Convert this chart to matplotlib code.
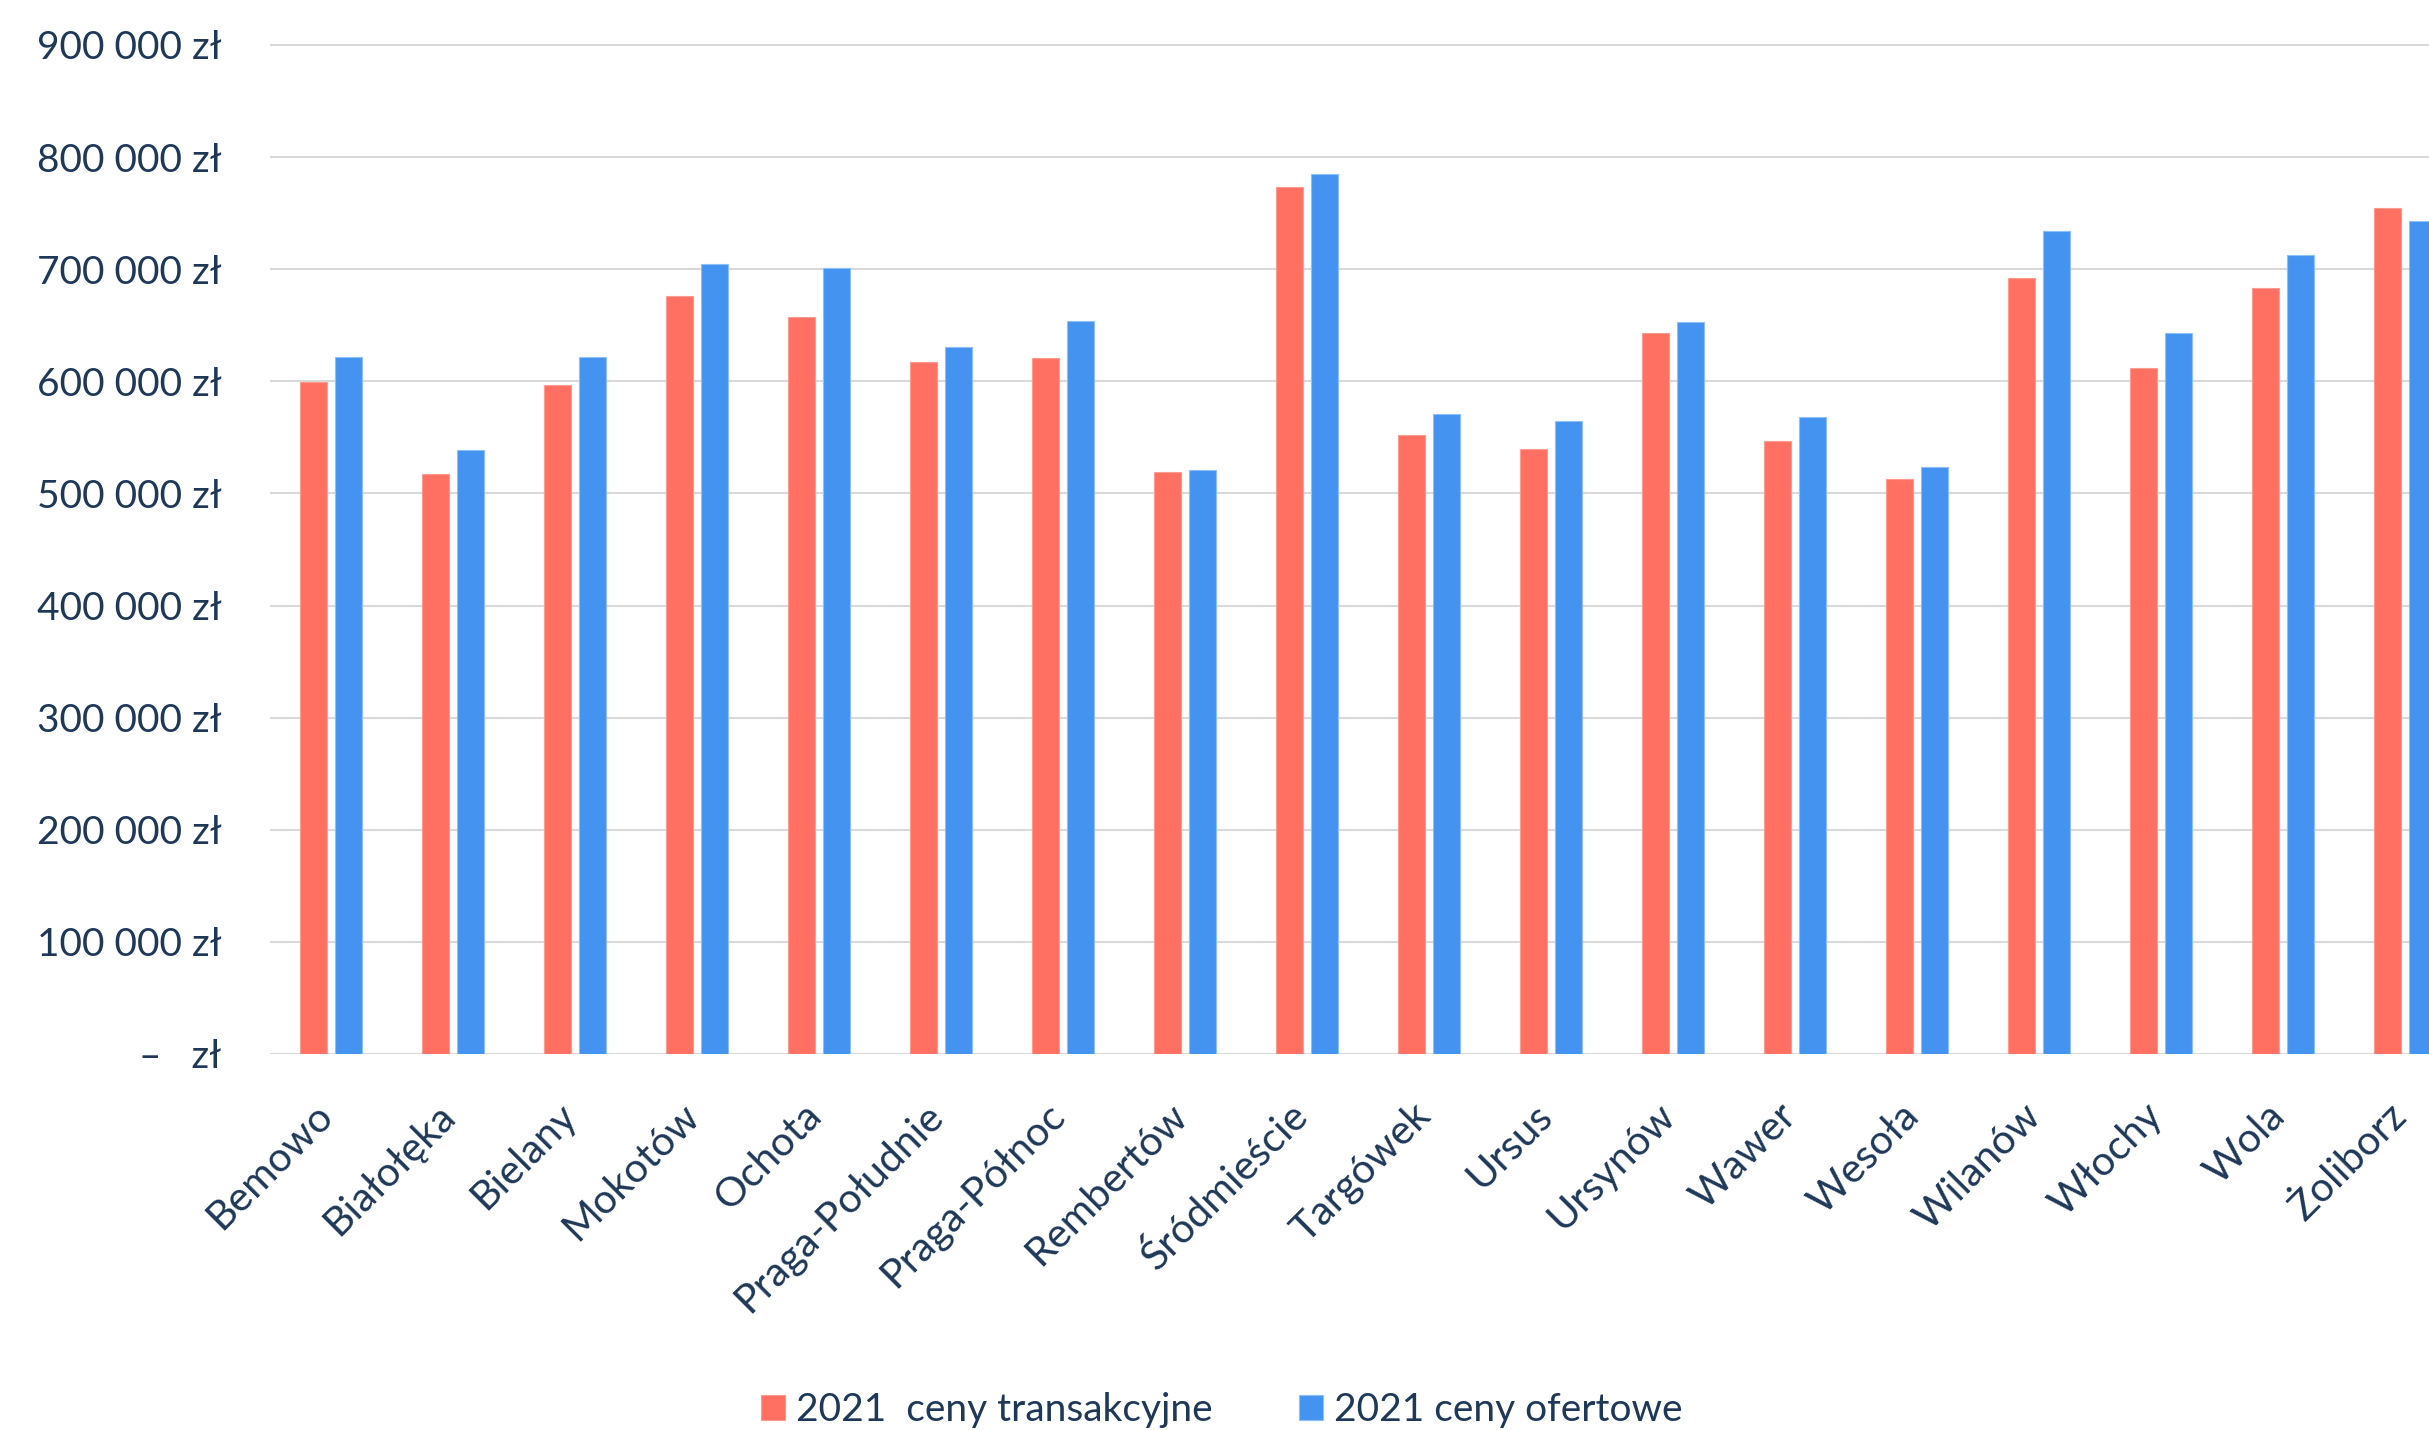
import matplotlib
matplotlib.use("Agg")
import matplotlib.pyplot as plt
import numpy as np
from matplotlib.transforms import ScaledTranslation

# District names (Warsaw) and average flat prices in PLN
districts = ["Bemowo", "Białołęka", "Bielany", "Mokotów", "Ochota", "Praga-Południe",
             "Praga-Północ", "Rembertów", "Śródmieście", "Targówek", "Ursus", "Ursynów",
             "Wawer", "Wesoła", "Wilanów", "Włochy", "Wola", "Żoliborz"]
transaction_2021 = [599000, 517000, 597000, 676000, 657000, 617000,
                    621000, 519000, 773000, 552000, 540000, 643000,
                    547000, 513000, 692000, 612000, 683000, 755000]
offer_2021 = [622000, 539000, 622000, 705000, 701000, 631000,
              654000, 521000, 785000, 571000, 565000, 653000,
              568000, 524000, 734000, 643000, 713000, 743000]
series_labels = ["2021  ceny transakcyjne", "2021 ceny ofertowe"]
y_ticks = [0, 100000, 200000, 300000, 400000, 500000, 600000, 700000, 800000, 900000]

RED = "#FF7062"
BLUE = "#4493F0"
TEXT = "#1F3858"
GRID = "#D9D9D9"
FONT = ["Lato", "DejaVu Sans"]

plt.rcParams["font.family"] = FONT

W, H, DPI = 2429, 1430, 100
fig = plt.figure(figsize=(W / DPI, H / DPI), dpi=DPI)

# axes placement in pixels
x0_px, x1_px = 270, 2466
y0_px, y900_px = 1054, 45
ytop = 910000
h_frac = (y0_px - y900_px) / H * ytop / 900000
ax = fig.add_axes([x0_px / W, 1 - y0_px / H, (x1_px - x0_px) / W, h_frac])

x = np.arange(len(districts))
bw = 0.22
off = 0.146
ax.bar(x - off, transaction_2021, width=bw, color=RED, edgecolor="#FF9A90",
       linewidth=0.8, label=series_labels[0], zorder=3)
ax.bar(x + off, offer_2021, width=bw, color=BLUE, edgecolor="#8FBFF7",
       linewidth=0.8, label=series_labels[1], zorder=3)

ax.set_xlim(-0.5, len(districts) - 0.5)
ax.set_ylim(0, ytop)


def fmt(v):
    if v == 0:
        return "–   zł"
    return f"{int(v):,}".replace(",", " ") + " zł"


ax.set_yticks(y_ticks)
ax.set_yticklabels([fmt(v) for v in y_ticks])
ax.yaxis.grid(True, color=GRID, linewidth=1.5, zorder=0)
ax.set_axisbelow(True)
for s in ax.spines.values():
    s.set_visible(False)
ax.tick_params(axis="y", length=0, pad=35, labelsize=28, labelcolor=TEXT)

ax.set_xticks(x)
ax.set_xticklabels(districts, rotation=45, ha="right", va="baseline",
                   rotation_mode="anchor")
ax.tick_params(axis="x", length=0, pad=46, labelsize=29.5, labelcolor=TEXT)
shift = ScaledTranslation(4 / DPI, 0, fig.dpi_scale_trans)
for lab in ax.get_xticklabels():
    lab.set_transform(lab.get_transform() + shift)

fig.legend(loc="center", bbox_to_anchor=(0.503, 1 - 1410 / H), ncol=2,
           frameon=False, fontsize=28, labelcolor=TEXT,
           handlelength=0.62, handleheight=0.62, handletextpad=0.3,
           columnspacing=2.2, borderaxespad=0)

fig.savefig("out.png", dpi=DPI, facecolor="white")
